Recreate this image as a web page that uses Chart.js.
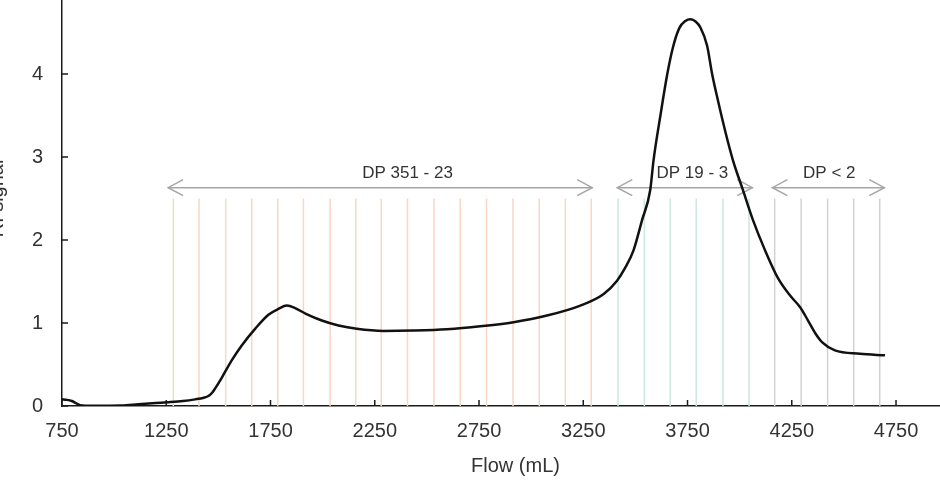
<!DOCTYPE html>
<html>
<head>
<meta charset="utf-8">
<script src="https://cdn.jsdelivr.net/npm/chart.js@4"></script>
<style>
  html, body { margin: 0; padding: 0; background: #fff; overflow: hidden; width: 940px; height: 480px; }
  #wrap { position: absolute; left: -15px; top: -40px; }
</style>
</head>
<body>
<div id="wrap"><canvas id="chart" width="1000" height="530"></canvas></div>
<script>
// RI trace (flow in mL, RI signal)
const flow = [750, 770, 797, 820, 836, 900, 1036, 1116, 1200, 1260, 1330, 1388, 1430, 1452, 1470, 1484,
  1516, 1564, 1612, 1676, 1740, 1788, 1828, 1868, 1920, 1996, 2076, 2164, 2292, 2436, 2596, 2756,
  2916, 3076, 3236, 3348, 3412, 3450, 3491, 3532, 3571, 3587, 3620, 3653, 3680, 3710, 3740, 3765,
  3790, 3812, 3844, 3868, 3896, 3930, 3968, 4016, 4064, 4122, 4184, 4242, 4290, 4328, 4362, 4395,
  4457, 4577, 4697];
const signal = [0.08, 0.075, 0.06, 0.03, 0.01, 0.003, 0.005, 0.02, 0.035, 0.045, 0.06, 0.08, 0.1, 0.12, 0.16, 0.21,
  0.34, 0.55, 0.73, 0.93, 1.1, 1.17, 1.21, 1.18, 1.11, 1.03, 0.97, 0.93, 0.905, 0.91, 0.925, 0.96,
  1.01, 1.09, 1.21, 1.35, 1.51, 1.66, 1.875, 2.24, 2.6, 2.96, 3.5, 4.0, 4.32, 4.55, 4.64, 4.66,
  4.63, 4.56, 4.34, 4.0, 3.68, 3.32, 2.96, 2.6, 2.24, 1.875, 1.54, 1.33, 1.19, 1.03, 0.88, 0.77,
  0.67, 0.63, 0.61];

const xTicks = [750, 1250, 1750, 2250, 2750, 3250, 3750, 4250, 4750];
const yTicks = [0, 1, 2, 3, 4];

// fraction cuts (mL) and which DP pool they belong to
const fractionCuts = [1284, 1407, 1535, 1660, 1785, 1908, 2036, 2159, 2281, 2407, 2534, 2660, 2786, 2913,
  3039, 3164, 3288, 3417, 3543, 3667, 3792, 3920, 4045, 4168, 4295, 4422, 4547, 4672];
const fractionGroup = [3, 0, 3, 0, 0, 0, 0, 0, 0, 0, 0, 0, 0, 0, 0, 0, 0, 1, 1, 1, 1, 1, 1, 2, 2, 2, 2, 2];
const groupColors = ['#f9d6c4', '#cbe7de', '#d2d2d2', '#e8e1c6'];
const cutTop = 2.5;

// DP ranges
const rangeLabels = ['DP 351 - 23', 'DP 19 - 3', 'DP < 2'];
const rangeStart = [1259, 3413, 4157];
const rangeEnd = [3293, 4061, 4694];
const rangeLabelX = [2407, 3773, 4430];
const arrowY = 2.63;
const labelY = 2.8;

Chart.defaults.font.family = '"Liberation Sans", Arial, sans-serif';
Chart.defaults.color = '#333';

// arrowhead helper
function arrowHead(ctx, x, y, dir) {
  ctx.beginPath();
  ctx.moveTo(x - dir * 15, y - 8);
  ctx.lineTo(x, y);
  ctx.lineTo(x - dir * 15, y + 8);
  ctx.stroke();
}

const fractionPlugin = {
  id: 'fractions',
  beforeDatasetsDraw(chart) {
    const { ctx, scales: { x, y } } = chart;
    ctx.save();
    // cut lines
    ctx.lineWidth = 1.5;
    fractionCuts.forEach((v, i) => {
      const px = x.getPixelForValue(v);
      ctx.strokeStyle = groupColors[fractionGroup[i]];
      ctx.beginPath();
      ctx.moveTo(px, y.getPixelForValue(0));
      ctx.lineTo(px, y.getPixelForValue(cutTop));
      ctx.stroke();
    });
    // arrows + labels
    ctx.strokeStyle = '#a6a6a6';
    ctx.lineWidth = 1.5;
    const ay = y.getPixelForValue(arrowY);
    rangeLabels.forEach((lab, i) => {
      const x1 = x.getPixelForValue(rangeStart[i]);
      const x2 = x.getPixelForValue(rangeEnd[i]);
      ctx.beginPath();
      ctx.moveTo(x1, ay);
      ctx.lineTo(x2, ay);
      ctx.stroke();
      arrowHead(ctx, x1, ay, -1);
      arrowHead(ctx, x2, ay, 1);
    });
    ctx.fillStyle = '#333';
    ctx.font = '17px "Liberation Sans", Arial, sans-serif';
    ctx.textAlign = 'center';
    ctx.textBaseline = 'middle';
    rangeLabels.forEach((lab, i) => {
      ctx.fillText(lab, x.getPixelForValue(rangeLabelX[i]), y.getPixelForValue(labelY));
    });
    ctx.restore();
  },
  afterDraw(chart) {
    // inward tick marks
    const { ctx, scales: { x, y } } = chart;
    ctx.save();
    ctx.strokeStyle = '#1a1a1a';
    ctx.lineWidth = 1.5;
    const y0 = y.getPixelForValue(0);
    const x0 = x.getPixelForValue(750);
    xTicks.forEach(v => {
      const px = x.getPixelForValue(v);
      ctx.beginPath();
      ctx.moveTo(px, y0);
      ctx.lineTo(px, y0 - 6);
      ctx.stroke();
    });
    yTicks.forEach(v => {
      const py = y.getPixelForValue(v);
      ctx.beginPath();
      ctx.moveTo(x0, py);
      ctx.lineTo(x0 + 6, py);
      ctx.stroke();
    });
    ctx.restore();
  }
};

new Chart(document.getElementById('chart'), {
  type: 'line',
  data: {
    datasets: [{
      data: flow.map((f, i) => ({ x: f, y: signal[i] })),
      borderColor: '#111',
      borderWidth: 2.5,
      pointRadius: 0,
      cubicInterpolationMode: 'monotone',
      fill: false
    }]
  },
  options: {
    responsive: false,
    animation: false,
    devicePixelRatio: 1,
    layout: { padding: { top: 10, right: 16, left: 0, bottom: 0 } },
    plugins: { legend: { display: false }, tooltip: { enabled: false } },
    scales: {
      x: {
        type: 'linear',
        min: 750,
        max: 5100,
        border: { color: '#1a1a1a', width: 1.5 },
        grid: { drawOnChartArea: false, drawTicks: false },
        afterBuildTicks: s => { s.ticks = xTicks.map(v => ({ value: v })); },
        afterFit: s => { s.height = 84; },
        ticks: { padding: 13, color: '#333', font: { size: 20 }, maxRotation: 0, autoSkip: false, callback: v => String(v) },
        title: { display: true, text: 'Flow (mL)', color: '#333', font: { size: 20 }, padding: { top: 0, bottom: 12 } }
      },
      y: {
        min: 0,
        max: 5,
        border: { color: '#1a1a1a', width: 1.5 },
        grid: { drawOnChartArea: false, drawTicks: false },
        afterBuildTicks: s => { s.ticks = yTicks.map(v => ({ value: v })); },
        afterFit: s => { s.width = 77; },
        ticks: { padding: 19, color: '#333', font: { size: 20 }, callback: v => String(v) },
        title: { display: true, text: 'RI signal', color: '#333', font: { size: 20 }, padding: { top: 0, bottom: 0 } }
      }
    }
  },
  plugins: [fractionPlugin]
});
</script>
</body>
</html>
